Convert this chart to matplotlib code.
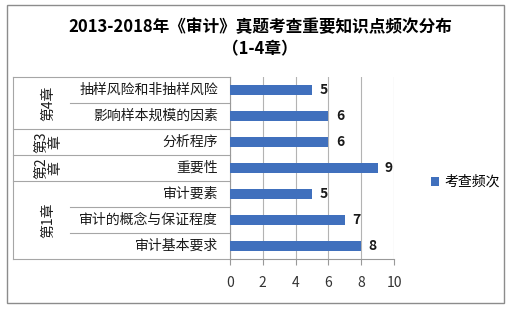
import matplotlib
matplotlib.use("Agg")
import matplotlib.pyplot as plt
from matplotlib.patches import Rectangle

plt.rcParams['font.family'] = ['Noto Sans CJK SC', 'DejaVu Sans']

# data, bottom row first
items = ["审计基本要求", "审计的概念与保证程度", "审计要素", "重要性",
         "分析程序", "影响样本规模的因素", "抽样风险和非抽样风险"]
counts = [8, 7, 5, 9, 6, 6, 5]
chapters = ["第1章", "第2\n章", "第3\n章", "第4章"]
chapter_rows = [(0, 2), (3, 3), (4, 4), (5, 6)]
xticks = [0, 2, 4, 6, 8, 10]

W, H = 509, 309
fig = plt.figure(figsize=(W / 100, H / 100), dpi=100)
fig.patch.set_facecolor("white")

# outer chart frame
fig.add_artist(Rectangle((7 / W, 1 - 303 / H), 497 / W, 298 / H,
                         transform=fig.transFigure, fill=False,
                         edgecolor="#8c8c8c", linewidth=1))

x0, x1, y_top, y_bot = 230, 394, 77, 259
ax = fig.add_axes([x0 / W, 1 - y_bot / H, (x1 - x0) / W, (y_bot - y_top) / H])

rows = list(range(len(items)))
ax.barh(rows, counts, height=0.42, color="#4070BD", label="考查频次", zorder=3)
for r, v in zip(rows, counts):
    ax.text(v + 0.45, r, str(v), va="center", ha="left", fontsize=10,
            fontweight="bold", color="#1a1a1a")

ax.set_xlim(0, 10)
ax.set_ylim(-0.5, len(items) - 0.5)
ax.set_xticks(xticks)
ax.tick_params(axis="x", length=4, color="#999999", labelsize=10, pad=8,
               labelcolor="#333333")
ax.set_yticks([])
ax.grid(axis="x", color="#b3b3b3", linewidth=0.8, zorder=0)
ax.spines["top"].set_visible(False)
ax.spines["right"].set_visible(False)
for s in ("left", "bottom"):
    ax.spines[s].set_color("#999999")
    ax.spines[s].set_linewidth(0.8)

# label table on the left
tr = ax.get_yaxis_transform()
left_outer = (13 - x0) / (x1 - x0)
left_inner = (70 - x0) / (x1 - x0)
group_edges = set()
for a, b in chapter_rows:
    group_edges.add(a - 0.5)
    group_edges.add(b + 0.5)
for k in range(len(items) + 1):
    y = k - 0.5
    xs = left_outer if y in group_edges else left_inner
    ax.plot([xs, 0], [y, y], transform=tr, color="#a6a6a6", linewidth=0.8,
            clip_on=False)
ax.plot([left_outer, left_outer], [-0.5, len(items) - 0.5], transform=tr,
        color="#a6a6a6", linewidth=0.8, clip_on=False)

label_x = (218 - x0) / (x1 - x0)
for r, name in zip(rows, items):
    ax.text(label_x, r, name, transform=tr, ha="right", va="center",
            fontsize=10, color="#1a1a1a")

chap_x = (48 - x0) / (x1 - x0)
for (a, b), name in zip(chapter_rows, chapters):
    ax.text(chap_x, (a + b) / 2, name, transform=tr, ha="center", va="center",
            rotation=90, fontsize=10, color="#1a1a1a", linespacing=1.0,
            multialignment="center")

fig.text(260 / W, 1 - 27 / H, "2013-2018年《审计》真题考查重要知识点频次分布",
         ha="center", va="center", fontsize=12, fontweight="bold")
fig.text(260 / W, 1 - 49 / H, "（1-4章）", ha="center", va="center",
         fontsize=12, fontweight="bold")

ax.legend(loc="center left", bbox_to_anchor=(418 / W, 1 - 182 / H),
          bbox_transform=fig.transFigure, frameon=False, fontsize=10,
          handlelength=0.6, handleheight=0.6, handletextpad=0.4)

fig.savefig("out.png", dpi=100)
